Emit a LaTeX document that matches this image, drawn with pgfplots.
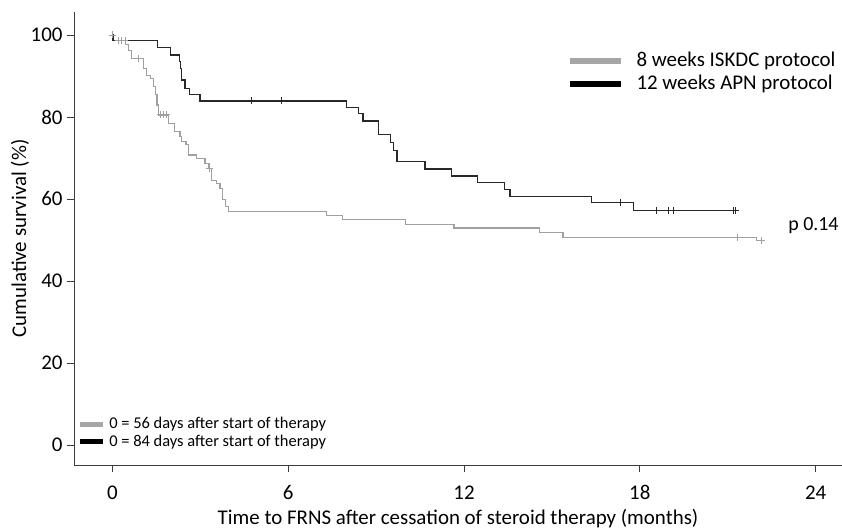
\documentclass[border=0pt]{standalone}
\usepackage{pgfplots}
\pgfplotsset{compat=1.18}
\usepackage{fontspec}
\setmainfont{Carlito}
\definecolor{kmgrey}{RGB}{160,160,160}
\definecolor{kmblack}{RGB}{40,40,40}
\definecolor{leggrey}{RGB}{166,166,166}
\definecolor{axgrey}{RGB}{60,60,60}

\begin{document}
\begin{tikzpicture}
\begin{axis}[
  scale only axis,
  width=768bp, height=453bp,
  xmin=-1.31, xmax=24.9, ymin=-4.88, ymax=105.6,
  axis lines=left,
  axis line style={-, line width=0.9pt, color=axgrey},
  xtick={0,6,12,18,24}, ytick={0,20,40,60,80,100},
  tick align=outside,
  major tick length=7bp,
  tick style={line width=0.8pt, color=axgrey},
  /pgf/number format/assume math mode=true,
  ticklabel style={font=\fontsize{21}{25}\selectfont},
  xticklabel style={yshift=-10bp},
  yticklabel style={xshift=-1bp},
  xlabel={Time to FRNS after cessation of steroid therapy (months)},
  ylabel={Cumulative survival (\%)},
  label style={font=\fontsize{21}{25}\selectfont},
  xlabel style={at={(axis description cs:0.5,-0.118)}, anchor=center},
  ylabel style={at={(axis description cs:-0.0703,0.5)}, anchor=center},
  clip=false,
]
% 8 weeks ISKDC protocol
\addplot[const plot, color=kmgrey, line width=1.2pt] coordinates {
(0,100) (0.05,98.6) (0.45,97.6) (0.55,96.3) (0.66,94.3) (1.06,91.9) (1.17,90.2)
(1.29,89.4) (1.40,87.4) (1.46,85.4) (1.52,82.9) (1.57,80.5) (1.91,78.5) (2.11,76.4)
(2.31,75.2) (2.37,74.0) (2.51,73.2) (2.60,70.7) (2.88,69.9) (3.16,68.7) (3.30,67.5)
(3.39,64.6) (3.56,63.8) (3.67,62.6) (3.77,59.8) (3.85,58.1) (3.96,56.9) (7.32,55.9)
(7.85,54.9) (9.99,53.7) (11.66,52.9) (14.57,51.8) (15.38,50.7) (21.99,49.8) (22.2,49.8)
};
\addplot[only marks, mark=+, mark size=3.5bp, color=kmgrey, line width=0.9pt] coordinates {
(0,100) (0.2,98.6) (0.32,98.6) (0.43,98.6) (0.9,94.3) (1.63,80.5) (1.75,80.5)
(1.86,80.5) (3.3,67.5) (21.33,50.7) (22.14,49.8)
};
% 12 weeks APN protocol
\addplot[const plot, color=kmblack, line width=1.2pt] coordinates {
(0,100) (0.02,98.6) (1.54,97.0) (1.97,95.1) (2.28,93.5) (2.32,91.9) (2.37,89.0)
(2.48,87.0) (2.63,85.5) (2.99,83.9) (8.00,82.4) (8.40,80.9) (8.55,79.0) (9.08,75.8)
(9.50,73.8) (9.58,71.8) (9.71,69.1) (10.67,67.3) (11.57,65.6) (12.46,64.1) (13.38,62.4)
(13.57,60.7) (16.34,59.1) (17.78,57.1) (21.25,57.1)
};
\addplot[only marks, mark=+, mark size=3.5bp, color=kmblack, line width=0.9pt] coordinates {
(4.73,83.9) (5.76,83.9) (17.33,59.1) (18.56,57.1) (18.98,57.1) (19.15,57.1)
(21.2,57.1) (21.25,57.1)
};
% legend top right
\draw[leggrey, line width=6bp] (axis cs:15.62,93.7) -- (axis cs:17.36,93.7);
\draw[black, line width=6bp] (axis cs:15.62,88.0) -- (axis cs:17.36,88.0);
\node[anchor=west, inner sep=0pt, font=\fontsize{21}{25}\selectfont] at (axis cs:17.88,93.7) {8 weeks ISKDC protocol};
\node[anchor=west, inner sep=0pt, font=\fontsize{21}{25}\selectfont] at (axis cs:17.88,88.0) {12 weeks APN protocol};
% legend bottom left
\draw[leggrey, line width=5bp] (axis cs:-1.10,5.1) -- (axis cs:-0.32,5.1);
\draw[black, line width=5bp] (axis cs:-1.10,0.73) -- (axis cs:-0.32,0.73);
\node[anchor=west, inner sep=0pt, font=\fontsize{16.5}{19}\selectfont] at (axis cs:-0.11,5.1) {0 = 56 days after start of therapy};
\node[anchor=west, inner sep=0pt, font=\fontsize{16.5}{19}\selectfont] at (axis cs:-0.11,0.73) {0 = 84 days after start of therapy};
% p value
\node[anchor=west, inner sep=0pt, font=\fontsize{20}{24}\selectfont] at (axis cs:23.06,53.4) {p 0.14};
\coordinate (bl) at (rel axis cs:0,0);
\coordinate (tr) at (rel axis cs:1,1);
\end{axis}
\pgfresetboundingbox
\path ([shift={(-74bp,-65bp)}]bl) rectangle ([shift={(0bp,12bp)}]tr);
\end{tikzpicture}
\end{document}
